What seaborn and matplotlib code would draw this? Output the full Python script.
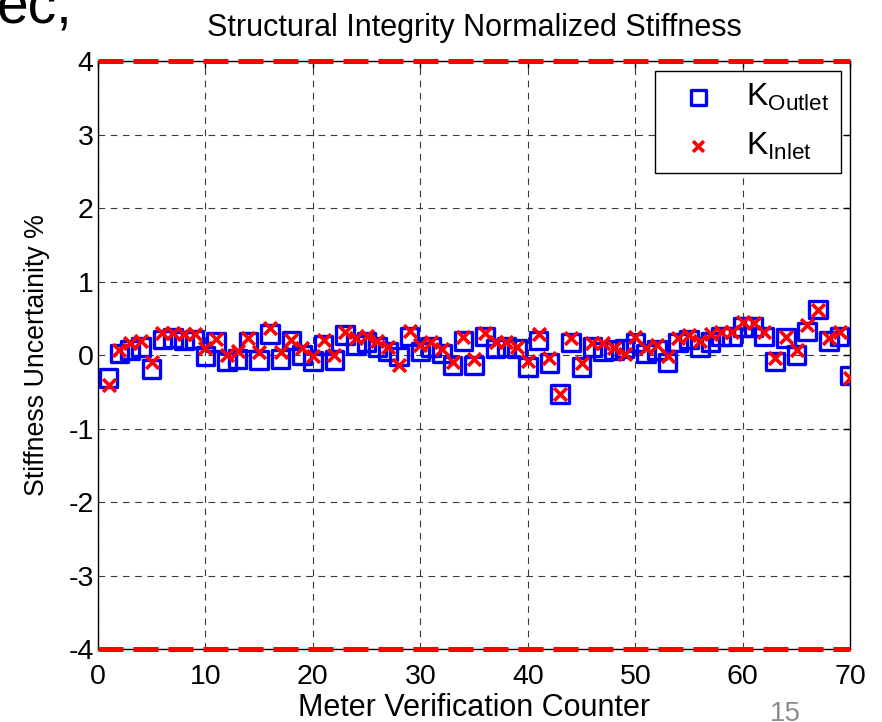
import matplotlib
matplotlib.use("Agg")
import matplotlib.pyplot as plt
import seaborn as sns
import pandas as pd

counter = list(range(1, 71))
k_outlet = [-0.31, 0.02, 0.07, 0.11, -0.19, 0.21, 0.23, 0.20, 0.21, -0.01,
            0.18, -0.09, -0.05, 0.18, -0.07, 0.29, -0.05, 0.20, 0.00, -0.08,
            0.14, -0.07, 0.27, 0.14, 0.18, 0.11, 0.05, -0.02, 0.25, 0.05,
            0.11, 0.02, -0.14, 0.19, -0.14, 0.25, 0.09, 0.11, 0.09, -0.16,
            0.20, -0.11, -0.53, 0.17, -0.16, 0.11, 0.05, 0.07, 0.09, 0.17,
            0.02, 0.07, -0.10, 0.17, 0.21, 0.11, 0.18, 0.25, 0.25, 0.38,
            0.38, 0.25, -0.09, 0.23, 0.00, 0.32, 0.62, 0.19, 0.25, -0.28]
k_inlet = [-0.41, 0.07, 0.16, 0.19, -0.10, 0.30, 0.30, 0.28, 0.28, 0.09,
           0.22, 0.00, 0.05, 0.23, 0.04, 0.37, 0.04, 0.21, 0.09, -0.01,
           0.20, 0.00, 0.31, 0.23, 0.26, 0.19, 0.11, -0.14, 0.33, 0.14,
           0.18, 0.08, -0.10, 0.25, -0.05, 0.30, 0.18, 0.18, 0.11, -0.08,
           0.28, -0.04, -0.53, 0.23, -0.11, 0.17, 0.17, 0.09, 0.02, 0.25,
           0.09, 0.14, -0.01, 0.23, 0.27, 0.19, 0.28, 0.32, 0.32, 0.45,
           0.43, 0.32, -0.04, 0.25, 0.07, 0.41, 0.61, 0.23, 0.31, -0.31]
limits = [4, -4]
x_ticks = [0, 10, 20, 30, 40, 50, 60, 70]
y_ticks = [-4, -3, -2, -1, 0, 1, 2, 3, 4]

df = pd.DataFrame({"counter": counter, "outlet": k_outlet, "inlet": k_inlet})

sns.set_style("white")
plt.rcParams["font.family"] = ["Liberation Sans", "DejaVu Sans"]
plt.rcParams["mathtext.fontset"] = "custom"
plt.rcParams["mathtext.rm"] = "Liberation Sans"
plt.rcParams["mathtext.it"] = "Liberation Sans"
plt.rcParams["axes.unicode_minus"] = False
plt.rcParams["text.color"] = "black"
plt.rcParams["axes.labelcolor"] = "black"
plt.rcParams["xtick.color"] = "black"
plt.rcParams["ytick.color"] = "black"

fig = plt.figure(figsize=(8.82, 7.22), dpi=100)
ax = fig.add_axes([0.111, 0.101, 0.853, 0.8145])

ax.grid(True, color="#3a3a3a", linestyle=(0, (6, 5)), linewidth=0.8)
ax.set_axisbelow(True)

for lim in limits:
    ax.axhline(lim, color="#ff0000", linewidth=3.6, linestyle=(0, (5, 2)), zorder=3, clip_on=False)

sns.scatterplot(data=df, x="counter", y="outlet", marker="s", s=160,
                linewidth=2.4, ax=ax, label=r"K$_{\mathrm{Outlet}}$", zorder=4)
sq = ax.collections[-1]
sq.set_facecolor("none")
sq.set_edgecolor("#0000ff")
sns.scatterplot(data=df, x="counter", y="inlet", marker="x", s=85,
                linewidth=2.6, color="#ff0000", ax=ax, label=r"K$_{\mathrm{Inlet}}$", zorder=5)

ax.set_xlim(0, 70)
ax.set_ylim(-4, 4)
ax.set_xticks(x_ticks)
ax.set_yticks(y_ticks)
ax.tick_params(direction="in", length=5, width=1, labelsize=20.5, top=True, right=True)
ax.tick_params(axis="x", pad=11)
ax.tick_params(axis="y", pad=3)
for s in ax.spines.values():
    s.set_color("black")
    s.set_linewidth(1)

ax.set_title("Structural Integrity Normalized Stiffness", fontsize=22, pad=18)
ax.set_xlabel("Meter Verification Counter", fontsize=22, labelpad=2)
ax.set_ylabel("Stiffness Uncertainity %", fontsize=19.3, labelpad=13)

leg = ax.legend(loc="upper right", fontsize=23, frameon=True, fancybox=False,
                edgecolor="black", framealpha=1, borderaxespad=0.3,
                handletextpad=0.5, borderpad=0.35, labelspacing=0.55, handlelength=2.0)
leg.get_frame().set_linewidth(1)
leg.legend_handles[0].set_sizes([120])
leg.legend_handles[1].set_sizes([60])

fig.text(-0.004, 0.968, "ec,", fontsize=41, ha="left", va="baseline")
fig.text(0.873, 0.029, "15", fontsize=20, color="#8c8c8c", ha="left", va="top")

fig.savefig("out.png", dpi=100)
